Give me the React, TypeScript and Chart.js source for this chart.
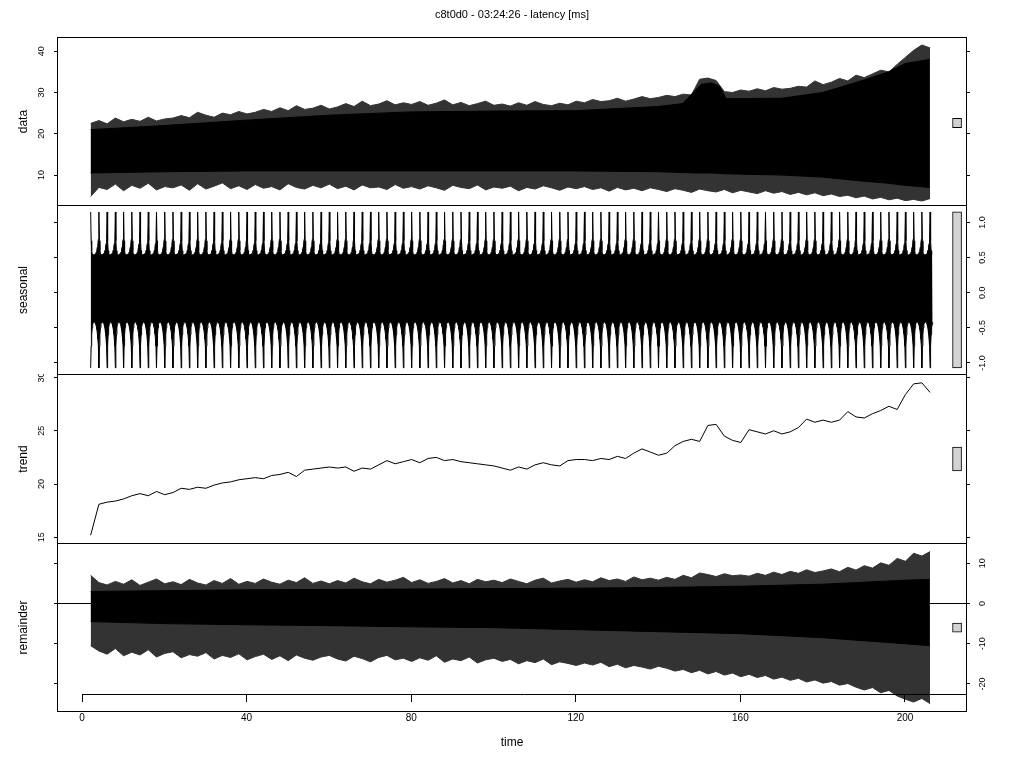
import React, { useEffect, useRef } from "react";
import { Chart, registerables } from "chart.js";

Chart.register(...registerables);

const chartTitle = "c8t0d0 - 03:24:26 - latency [ms]";
const xTitle = "time";
const panelNames = ["data", "seasonal", "trend", "remainder"];

const timeTicks = [0, 40, 80, 120, 160, 200];
const dataTicks = [10, 20, 30, 40];
const seasonalTicks = [-1, -0.5, 0, 0.5, 1];
const trendTicks = [15, 20, 25, 30];
const remainderTicks = [-20, -10, 0, 10];

// envelope / trend series, one value every binStep time units from binStart
const binStart = 2.1;
const binStep = 2;

// spike tips of the raw data
const dataHigh = [
  22.5, 23.2, 22.4, 23.8, 22.9, 23.5, 23.0, 24.0, 23.1, 23.6,
  23.8, 24.4, 23.9, 25.2, 24.5, 24.0, 25.0, 24.6, 25.4, 24.8,
  25.2, 25.9, 25.4, 26.3, 25.6, 26.8, 25.9, 26.2, 26.9, 26.0,
  26.5, 27.3, 26.6, 27.9, 26.8, 27.2, 28.0, 27.0, 27.5, 27.1,
  27.8, 26.9, 27.4, 28.2, 27.0, 27.6, 26.8, 27.3, 27.9, 26.9,
  27.2, 26.7, 27.5, 26.9, 27.8, 27.1, 26.8, 27.4, 27.0, 27.9,
  27.5, 28.3, 27.8, 28.0, 28.6, 27.9, 28.4, 29.0, 28.5, 28.8,
  29.3, 29.0, 29.6, 29.4, 33.2, 33.5, 32.9, 30.2, 30.0, 30.6,
  30.3, 30.9, 30.4, 31.2, 30.8, 31.0, 31.5, 31.3, 32.8, 31.9,
  32.5, 33.4, 32.8, 34.2, 33.6, 34.5, 35.4, 35.0, 36.8, 38.5,
  40.2, 41.5, 40.8,
];
const dataLow = [
  4.8, 7.0, 6.5, 7.8, 6.2, 7.5, 6.8, 8.0, 6.4, 7.2,
  6.9, 7.6, 6.3, 7.9, 6.6, 7.3, 8.1, 6.7, 7.4, 6.5,
  7.7, 6.8, 7.2, 6.4, 7.9, 7.0, 6.6, 7.5, 6.9, 7.8,
  6.7, 7.3, 6.4, 7.6, 6.9, 7.1, 6.5, 7.7, 6.8, 7.2,
  6.6, 7.4, 6.9, 6.3, 7.5, 7.0, 6.7, 7.6, 6.4, 7.1,
  6.8, 7.3, 6.2, 7.0, 6.6, 7.4, 6.9, 6.3, 7.1, 6.7,
  7.2, 6.5, 6.9, 6.1, 7.0, 6.4, 6.8, 6.2, 6.9, 6.5,
  6.0, 6.7, 6.3, 5.8, 6.6, 6.2, 5.9, 6.5, 5.7, 6.3,
  5.9, 5.5, 6.2, 5.6, 6.0, 5.3, 5.8, 5.2, 5.7, 5.0,
  5.4, 4.8, 5.1, 4.5, 4.9, 4.2, 4.6, 4.0, 4.4, 3.8,
  4.1, 3.7, 4.3,
];
// solid (dense) core of the raw data
const dataCoreTimes = [2.1, 20, 40, 60, 80, 100, 120, 140, 146, 149, 150.5, 153, 155, 156.5, 170, 180, 190, 196, 200, 206];
const dataCoreHigh = [21.0, 22.0, 23.3, 24.5, 25.3, 25.5, 25.6, 26.6, 27.3, 30.5, 32.0, 32.3, 31.5, 28.5, 28.6, 30.0, 33.0, 35.0, 37.0, 38.0];
const dataCoreLow = [10.5, 10.8, 11.0, 11.0, 11.0, 11.0, 11.0, 10.8, 10.6, 10.5, 10.5, 10.5, 10.4, 10.3, 10.0, 9.5, 8.5, 8.0, 7.5, 7.0];

const trendValues = [
  15.2, 18.1, 18.3, 18.4, 18.6, 18.9, 19.1, 18.9, 19.3, 19.0,
  19.2, 19.6, 19.5, 19.7, 19.6, 19.9, 20.1, 20.2, 20.4, 20.5,
  20.6, 20.5, 20.8, 20.9, 21.1, 20.7, 21.3, 21.4, 21.5, 21.6,
  21.5, 21.6, 21.2, 21.5, 21.4, 21.8, 22.2, 21.9, 22.1, 22.3,
  22.0, 22.4, 22.5, 22.2, 22.3, 22.1, 22.0, 21.9, 21.8, 21.7,
  21.5, 21.3, 21.6, 21.4, 21.8, 22.0, 21.8, 21.7, 22.2, 22.3,
  22.3, 22.2, 22.4, 22.3, 22.6, 22.4, 22.9, 23.3, 23.0, 22.7,
  22.9, 23.6, 24.0, 24.2, 24.0, 25.5, 25.6, 24.5, 24.1, 23.9,
  25.1, 24.9, 24.7, 25.0, 24.7, 24.9, 25.3, 26.1, 25.8, 26.0,
  25.8, 26.0, 26.8, 26.3, 26.2, 26.6, 26.9, 27.3, 27.0, 28.4,
  29.4, 29.5, 28.6,
];
const remainderHigh = [
  7.0, 5.2, 4.6, 5.5, 4.8, 5.9, 4.5, 5.3, 6.1, 4.9,
  5.4, 4.7, 6.0, 5.1, 4.6, 5.7, 5.0, 6.2, 4.8, 5.5,
  5.0, 6.1, 5.3, 4.8, 5.8, 5.2, 6.4, 5.0, 5.6, 4.9,
  5.7, 5.1, 6.3, 5.4, 4.9, 6.0, 5.3, 5.8, 6.5, 5.2,
  5.9, 5.0, 5.5, 6.2, 5.1, 5.7, 4.9, 6.0, 5.4, 5.8,
  5.2, 6.1, 5.5, 4.9, 5.8, 6.3, 5.1, 5.6, 6.0, 5.3,
  5.9, 5.4, 6.4, 5.7, 6.1, 5.5, 6.6, 5.9, 6.3, 5.8,
  6.5, 6.0, 7.0, 6.4, 7.6, 7.2, 6.7, 7.4, 6.9, 7.1,
  6.8, 7.5, 7.0, 7.8, 7.2, 8.0, 7.5, 8.4, 7.7, 8.1,
  8.6, 7.9, 9.0, 8.3, 9.4, 8.8, 10.1, 9.5, 11.2, 10.5,
  12.5, 11.8, 12.9,
];
const remainderLow = [
  -10.5, -11.8, -12.6, -11.2, -13.0, -12.1, -12.8, -11.5, -13.3, -12.4,
  -12.0, -13.5, -12.7, -13.1, -12.2, -13.8, -12.9, -13.4, -12.5, -14.0,
  -13.2, -12.6, -13.9, -13.0, -14.2, -12.8, -13.6, -14.1, -13.3, -12.9,
  -13.8, -14.3, -13.1, -13.7, -14.5, -13.4, -12.9, -14.0, -13.6, -14.4,
  -13.5, -14.1, -13.0, -14.6, -13.8, -14.2, -13.3, -14.8, -14.0, -13.6,
  -14.4, -13.9, -15.0, -14.2, -14.7, -13.8, -15.2, -14.5, -14.9, -15.4,
  -14.8, -15.3, -14.6, -15.7, -15.1, -16.0, -15.4, -15.8, -16.3, -15.6,
  -16.1, -16.8, -16.4, -17.2, -16.6, -17.5, -16.9, -17.8, -17.3, -18.2,
  -17.6, -18.4, -17.9, -18.8, -18.3, -19.1, -18.6, -19.5, -19.0, -19.8,
  -19.4, -20.3, -19.9, -20.8, -21.5, -20.9, -22.2, -21.6, -23.0, -23.8,
  -24.5, -23.6, -24.9,
];
// dense (solid) core of the remainder spikes
const remainderCoreTimes = [2.1, 20, 40, 60, 80, 100, 120, 140, 160, 180, 200, 206];
const remainderCoreHigh = [3.0, 3.2, 3.4, 3.5, 3.6, 3.7, 3.8, 4.0, 4.3, 4.8, 5.8, 6.0];
const remainderCoreLow = [-4.5, -5.0, -5.3, -5.5, -5.8, -6.0, -6.5, -7.0, -7.5, -8.5, -10.0, -10.5];

// one period of the seasonal component: upper and lower envelope within the period
const seasonalCycleHigh = [1.15, 0.74, 0.6, 0.55, 0.54, 0.54, 0.54, 0.54, 0.55, 0.55, 0.56, 0.58, 0.61, 0.65, 0.7, 0.76];
const seasonalCycleLow = [-1.07, -0.76, -0.6, -0.5, -0.45, -0.42, -0.42, -0.42, -0.42, -0.43, -0.45, -0.48, -0.52, -0.58, -0.66, -0.76];
const seasonalPeriod = 2;
const seasonalStart = 2.1;
const seasonalEnd = 206.8;

// ---- layout ----
const FONT = "'Liberation Sans', Arial, Helvetica, sans-serif";
const X_MIN = -6.08;
const X_MAX = 215.07;
const SIDE_W = 57;
const SPIKE_GREY = "#333";

type Pt = { x: number; y: number };
const binTimes = dataHigh.map((_, i) => binStart + i * binStep);
const pts = (ys: number[], xs: number[]): Pt[] => ys.map((y, i) => ({ x: xs[i], y }));

function seasonalPoints(cycle: number[]): Pt[] {
  const out: Pt[] = [];
  const n = cycle.length;
  for (let c = 0; c < 1000; c++) {
    for (let k = 0; k < n; k++) {
      const t = seasonalStart + (c + k / n) * seasonalPeriod;
      if (t > seasonalEnd) return out;
      out.push({ x: t, y: cycle[k] });
    }
  }
  return out;
}

const decorPlugin = {
  id: "panelDecor",
  afterDraw(chart: any, _args: any, opts: any) {
    const { ctx, chartArea: a } = chart;
    ctx.save();
    ctx.strokeStyle = "#000";
    ctx.lineWidth = 1;
    if (opts.box) {
      const l = Math.round(a.left) + 0.5;
      const t = Math.round(a.top) + 0.5;
      const r = Math.round(a.right) - 0.5;
      const b = Math.round(a.bottom) - 0.5;
      ctx.strokeRect(l, t, r - l, b - t);
    }
    if (opts.axisFrom !== undefined && opts.axisFrom !== null) {
      const x0 = chart.scales.x.getPixelForValue(opts.axisFrom);
      const y = Math.round(a.bottom) + 0.5;
      ctx.beginPath();
      ctx.moveTo(x0, y);
      ctx.lineTo(a.right, y);
      ctx.stroke();
    }
    ctx.restore();
  },
};

const lineBase: any = {
  type: "line",
  pointRadius: 0,
  borderWidth: 1,
  tension: 0,
  borderJoinStyle: "round",
  borderColor: "#000",
  fill: false,
  yAxisID: "y",
};

const allRanges = [
  [Math.min(...dataLow), Math.max(...dataHigh)],
  [Math.min(...seasonalCycleLow), Math.max(...seasonalCycleHigh)],
  [Math.min(...trendValues), Math.max(...trendValues)],
  [Math.min(...remainderLow), Math.max(...remainderHigh)],
];
const rangeBarHeight = Math.min(...allRanges.map((r) => r[1] - r[0]));
const rangeBarX = X_MAX - (0.7 * (X_MAX - X_MIN)) / 64;

function rangeBar(i: number): any {
  const c = (allRanges[i][0] + allRanges[i][1]) / 2;
  return {
    type: "bar",
    data: [{ x: rangeBarX, y: [c - rangeBarHeight / 2, c + rangeBarHeight / 2] }],
    barThickness: 9,
    backgroundColor: "#d3d3d3",
    borderColor: "#000",
    borderWidth: 1,
    borderSkipped: false,
    yAxisID: "y",
  };
}

type Panel = {
  top: number;
  height: number;
  yMin: number;
  yMax: number;
  ticks: number[];
  labelsRight: boolean;
  name: string;
  fmt: (v: number) => string;
  labelPad: number;
  title?: boolean;
  datasets: any[];
};

function yAxis(p: Panel, side: "left" | "right"): any {
  const showLabels = side === "right" ? p.labelsRight : !p.labelsRight;
  return {
    type: "linear",
    position: side,
    min: p.yMin,
    max: p.yMax,
    afterFit: (s: any) => {
      s.width = SIDE_W;
      s.paddingTop = 0;
      s.paddingBottom = 0;
    },
    afterBuildTicks: (s: any) => {
      s.ticks = p.ticks.map((v) => ({ value: v }));
    },
    grid: { display: true, drawOnChartArea: false, drawTicks: true, tickLength: 3, color: "#000" },
    border: { display: false },
    ticks: {
      display: showLabels,
      autoSkip: false,
      minRotation: 90,
      maxRotation: 90,
      crossAlign: "center",
      padding: p.labelPad,
      font: { family: FONT, size: 9 },
      color: "#000",
      callback: (v: any) => p.fmt(Number(v)),
    },
    title: {
      display: side === "left",
      text: p.name,
      font: { family: FONT, size: 12 },
      color: "#000",
      padding: { top: 16, bottom: 0 },
    },
  };
}

function panelConfig(p: Panel): any {
  return {
    type: "line",
    data: { datasets: p.datasets },
    options: {
      animation: false,
      responsive: false,
      devicePixelRatio: 1,
      events: [],
      layout: { padding: 0 },
      plugins: {
        legend: { display: false },
        tooltip: { enabled: false },
        title: p.title
          ? {
              display: true,
              text: chartTitle,
              font: { family: FONT, size: 11, weight: "normal" },
              color: "#000",
              padding: { top: 8, bottom: 16 },
            }
          : { display: false },
        panelDecor: { box: true },
      },
      scales: {
        x: { type: "linear", min: X_MIN, max: X_MAX, display: false, offset: false },
        y: yAxis(p, "left"),
        y2: yAxis(p, "right"),
      },
    },
    plugins: [decorPlugin],
  };
}

function axisConfig(): any {
  return {
    type: "line",
    data: { datasets: [] },
    options: {
      animation: false,
      responsive: false,
      devicePixelRatio: 1,
      events: [],
      layout: { padding: { left: SIDE_W, right: SIDE_W, top: 0, bottom: 0 } },
      plugins: {
        legend: { display: false },
        tooltip: { enabled: false },
        title: { display: false },
        panelDecor: { box: false, axisFrom: timeTicks[0] },
      },
      scales: {
        x: {
          type: "linear",
          position: "bottom",
          min: X_MIN,
          max: X_MAX,
          offset: false,
          afterFit: (s: any) => {
            s.height = 74;
            s.paddingLeft = 0;
            s.paddingRight = 0;
          },
          afterBuildTicks: (s: any) => {
            s.ticks = timeTicks.map((v) => ({ value: v }));
          },
          grid: { display: true, drawOnChartArea: false, drawTicks: true, tickLength: 8, color: "#000" },
          border: { display: false },
          ticks: {
            autoSkip: false,
            maxRotation: 0,
            minRotation: 0,
            padding: 10,
            font: { family: FONT, size: 10 },
            color: "#000",
          },
          title: {
            display: true,
            text: xTitle,
            font: { family: FONT, size: 12 },
            color: "#000",
            padding: { top: 0, bottom: 18 },
          },
        },
        y: { display: false, min: 0, max: 1 },
      },
    },
    plugins: [decorPlugin],
  };
}

const fmtInt = (v: number) => String(Math.round(v));
const fmt1 = (v: number) => v.toFixed(1);

function buildPanels(): Panel[] {
  return [
    {
      top: 0,
      height: 206,
      yMin: 2.5,
      yMax: 43.39,
      ticks: dataTicks,
      labelsRight: false,
      name: panelNames[0],
      fmt: fmtInt,
      labelPad: 7,
      title: true,
      datasets: [
        rangeBar(0),
        { ...lineBase, data: pts(dataCoreHigh, dataCoreTimes), fill: 2, backgroundColor: "#000" },
        { ...lineBase, data: pts(dataCoreLow, dataCoreTimes) },
        { ...lineBase, data: pts(dataHigh, binTimes), borderColor: SPIKE_GREY, fill: 4, backgroundColor: SPIKE_GREY },
        { ...lineBase, data: pts(dataLow, binTimes), borderColor: SPIKE_GREY },
      ],
    },
    {
      top: 205,
      height: 170,
      yMin: -1.171,
      yMax: 1.249,
      ticks: seasonalTicks,
      labelsRight: true,
      name: panelNames[1],
      fmt: fmt1,
      labelPad: 5,
      datasets: [
        rangeBar(1),
        { ...lineBase, data: seasonalPoints(seasonalCycleHigh), fill: 2, backgroundColor: "#000" },
        { ...lineBase, data: seasonalPoints(seasonalCycleLow) },
      ],
    },
    {
      top: 374,
      height: 170,
      yMin: 14.37,
      yMax: 30.33,
      ticks: trendTicks,
      labelsRight: false,
      name: panelNames[2],
      fmt: fmtInt,
      labelPad: 7,
      datasets: [rangeBar(2), { ...lineBase, data: pts(trendValues, binTimes) }],
    },
    {
      top: 543,
      height: 169,
      yMin: -26.97,
      yMax: 15.04,
      ticks: remainderTicks,
      labelsRight: true,
      name: panelNames[3],
      fmt: fmtInt,
      labelPad: 6,
      datasets: [
        { ...lineBase, data: [{ x: X_MIN, y: 0 }, { x: X_MAX, y: 0 }] },
        rangeBar(3),
        { ...lineBase, data: pts(remainderCoreHigh, remainderCoreTimes), fill: 3, backgroundColor: "#000" },
        { ...lineBase, data: pts(remainderCoreLow, remainderCoreTimes) },
        { ...lineBase, data: pts(remainderHigh, binTimes), borderColor: SPIKE_GREY, fill: 5, backgroundColor: SPIKE_GREY },
        { ...lineBase, data: pts(remainderLow, binTimes), borderColor: SPIKE_GREY },
      ],
    },
  ];
}

const AXIS_TOP = 693;
const AXIS_H = 75;

export default function App() {
  const refs = useRef<(HTMLCanvasElement | null)[]>([]);
  const panels = buildPanels();

  useEffect(() => {
    const charts: Chart[] = [];
    panels.forEach((p, i) => {
      const c = refs.current[i];
      if (c) charts.push(new Chart(c, panelConfig(p)));
    });
    const ac = refs.current[panels.length];
    if (ac) charts.push(new Chart(ac, axisConfig()));
    return () => charts.forEach((c) => c.destroy());
  }, []);

  return (
    <div style={{ position: "absolute", left: 0, top: 0, width: 1024, height: 768, background: "#fff", overflow: "hidden" }}>
      {panels.map((p, i) => (
        <canvas
          key={i}
          ref={(el) => {
            refs.current[i] = el;
          }}
          width={1024}
          height={p.height}
          style={{ position: "absolute", left: 0, top: p.top, display: "block" }}
        />
      ))}
      <canvas
        ref={(el) => {
          refs.current[panels.length] = el;
        }}
        width={1024}
        height={AXIS_H}
        style={{ position: "absolute", left: 0, top: AXIS_TOP, display: "block" }}
      />
    </div>
  );
}
